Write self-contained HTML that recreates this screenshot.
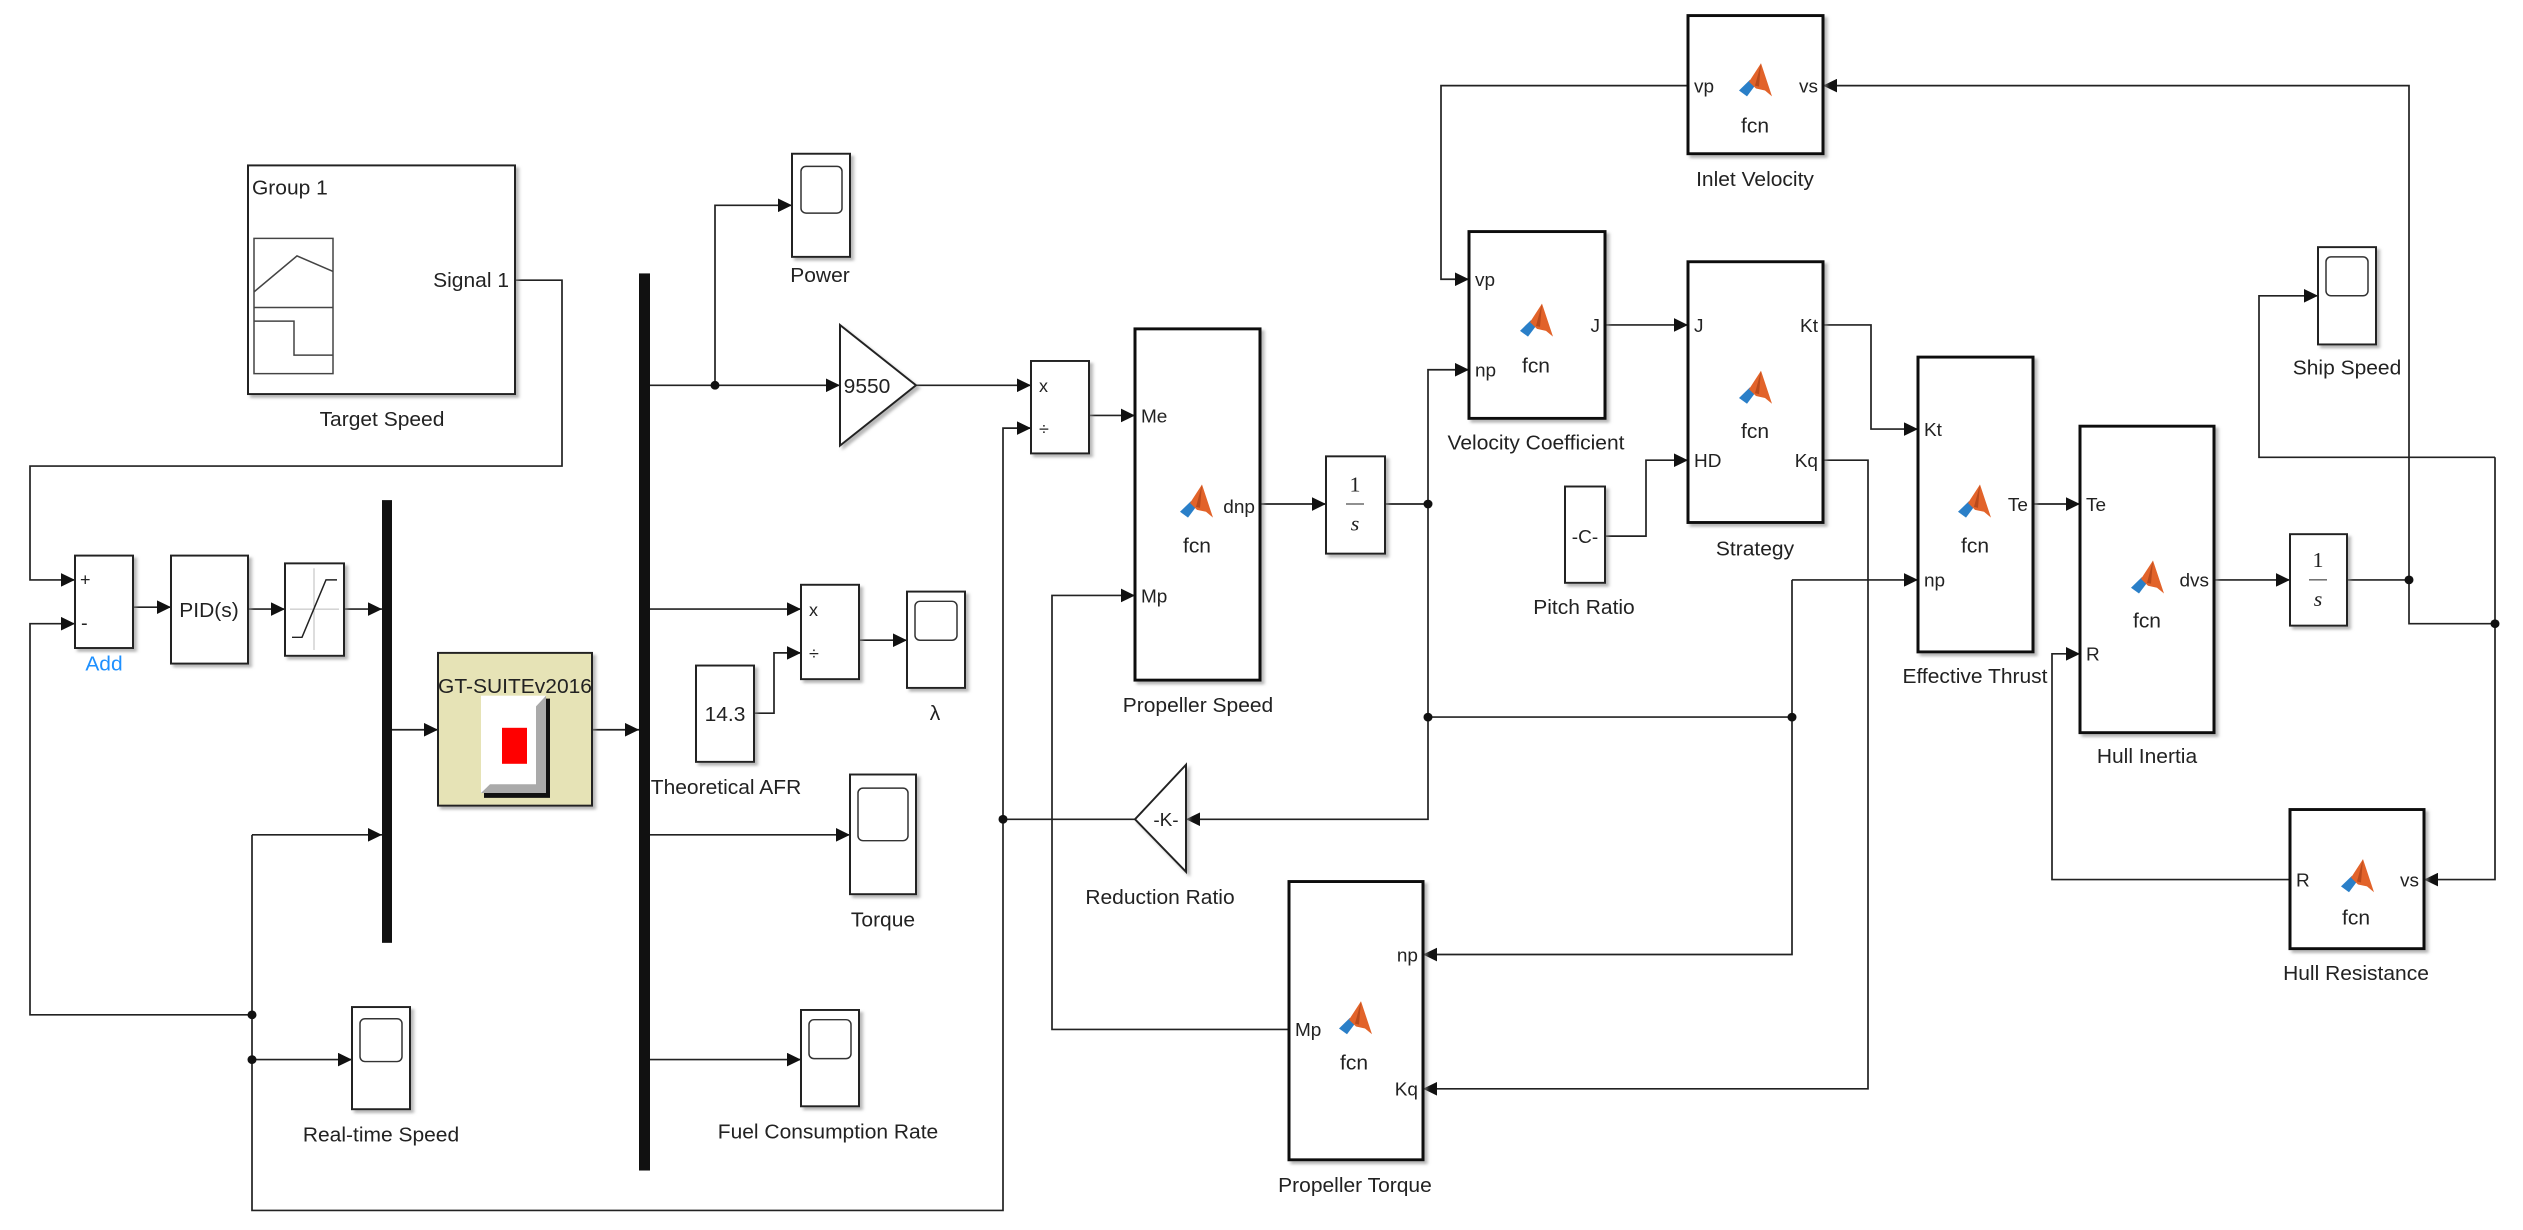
<!DOCTYPE html>
<html><head><meta charset="utf-8"><style>
html,body{margin:0;padding:0;background:#fff;}
svg{display:block;}
text{font-family:"Liberation Sans",sans-serif;fill:#222;}
</style></head><body>
<svg width="2523" height="1230" viewBox="0 0 2523 1230" xmlns="http://www.w3.org/2000/svg">
<defs>
<marker id="a" viewBox="0 0 10 10" refX="10" refY="5" markerWidth="14" markerHeight="14" markerUnits="userSpaceOnUse" orient="auto"><path d="M0,0L10,5L0,10z" fill="#111"/></marker>
<g id="ic">
<path d="M-17,8 L-6,-3 L-1,3 L-9,14 Z" fill="#2a7fc8"/>
<path d="M-7,-1 L5,-20 L16,14 L9,8 L0,6 Z" fill="#e2632a"/>
<path d="M-1,3 L5,-20 L3,4 Z" fill="#b94a1c"/>
</g>
<filter id="sh" x="-10%" y="-10%" width="130%" height="130%"><feDropShadow dx="3" dy="3" stdDeviation="1.5" flood-color="#888" flood-opacity="0.6"/></filter>
</defs>
<g transform="scale(1,0.973)">
<g fill="none" stroke="#222" stroke-width="1.7">
<polyline points="515,288 562,288 562,479 30,479 30,596 75,596" marker-end="url(#a)"/>
<polyline points="133,624 171,624" marker-end="url(#a)"/>
<polyline points="248,626 285,626" marker-end="url(#a)"/>
<polyline points="344,626 382,626" marker-end="url(#a)"/>
<polyline points="252,858 382,858" marker-end="url(#a)"/>
<polyline points="252,858 252,1244 1003,1244 1003,440 1031,440" marker-end="url(#a)"/>
<polyline points="252,1043 30,1043 30,641 75,641" marker-end="url(#a)"/>
<polyline points="252,1089 352,1089" marker-end="url(#a)"/>
<polyline points="392,750 438,750" marker-end="url(#a)"/>
<polyline points="592,750 639,750" marker-end="url(#a)"/>
<polyline points="650,396 840,396" marker-end="url(#a)"/>
<polyline points="715,396 715,211 792,211" marker-end="url(#a)"/>
<polyline points="916,396 1031,396" marker-end="url(#a)"/>
<polyline points="650,626 801,626" marker-end="url(#a)"/>
<polyline points="754,733 774,733 774,671 801,671" marker-end="url(#a)"/>
<polyline points="859,658 907,658" marker-end="url(#a)"/>
<polyline points="650,858 850,858" marker-end="url(#a)"/>
<polyline points="650,1089 801,1089" marker-end="url(#a)"/>
<polyline points="1089,427 1135,427" marker-end="url(#a)"/>
<polyline points="1289,1058 1052,1058 1052,612 1135,612" marker-end="url(#a)"/>
<polyline points="1260,518 1326,518" marker-end="url(#a)"/>
<polyline points="1385,518 1428,518"/>
<polyline points="1428,518 1428,380 1469,380" marker-end="url(#a)"/>
<polyline points="1428,518 1428,842 1186,842" marker-end="url(#a)"/>
<polyline points="1003,842 1135,842"/>
<polyline points="1428,737 1792,737"/>
<polyline points="1792,596 1792,981 1423,981" marker-end="url(#a)"/>
<polyline points="1792,596 1918,596" marker-end="url(#a)"/>
<polyline points="1688,88 1441,88 1441,287 1469,287" marker-end="url(#a)"/>
<polyline points="1605,334 1688,334" marker-end="url(#a)"/>
<polyline points="1605,551 1646,551 1646,473 1688,473" marker-end="url(#a)"/>
<polyline points="1823,334 1871,334 1871,441 1918,441" marker-end="url(#a)"/>
<polyline points="1823,473 1868,473 1868,1119 1423,1119" marker-end="url(#a)"/>
<polyline points="2033,518 2080,518" marker-end="url(#a)"/>
<polyline points="2214,596 2290,596" marker-end="url(#a)"/>
<polyline points="2347,596 2409,596"/>
<polyline points="2409,596 2409,88 1823,88" marker-end="url(#a)"/>
<polyline points="2409,596 2409,641 2495,641"/>
<polyline points="2495,470 2495,904 2424,904" marker-end="url(#a)"/>
<polyline points="2495,470 2259,470 2259,304 2318,304" marker-end="url(#a)"/>
<polyline points="2290,904 2052,904 2052,672 2080,672" marker-end="url(#a)"/>
</g>
<g fill="#111">
<circle cx="252" cy="1043" r="4.5"/><circle cx="252" cy="1089" r="4.5"/>
<circle cx="715" cy="396" r="4.5"/><circle cx="1003" cy="842" r="4.5"/>
<circle cx="1428" cy="518" r="4.5"/><circle cx="1428" cy="737" r="4.5"/>
<circle cx="1792" cy="737" r="4.5"/><circle cx="2409" cy="596" r="4.5"/>
<circle cx="2495" cy="641" r="4.5"/>
</g>

<rect x="248" y="170" width="267" height="235" fill="#fff" stroke="#222" stroke-width="2" filter="url(#sh)"/>
<rect x="254" y="245" width="79" height="139" fill="#fff" stroke="#444" stroke-width="1.5"/>
<line x1="254" y1="316" x2="333" y2="316" stroke="#444" stroke-width="1.5"/>
<polyline points="254,300 297,263 333,279" fill="none" stroke="#444" stroke-width="1.5"/>
<polyline points="254,330 294,330 294,365 333,365" fill="none" stroke="#444" stroke-width="1.5"/>
<text x="252" y="200" font-size="21">Group 1</text>
<text x="509" y="295" font-size="21" text-anchor="end">Signal 1</text>
<text x="382" y="438" font-size="21" text-anchor="middle">Target Speed</text>

<rect x="75" y="571" width="58" height="95" fill="#fff" stroke="#222" stroke-width="2" filter="url(#sh)"/>
<text x="80" y="602" font-size="18">+</text><text x="81" y="647" font-size="20">-</text>
<text x="104" y="689" font-size="21" text-anchor="middle" style="fill:#1e90ff">Add</text>
<rect x="171" y="571" width="77" height="111" fill="#fff" stroke="#222" stroke-width="2" filter="url(#sh)"/>
<text x="209" y="634" font-size="21" text-anchor="middle">PID(s)</text>
<rect x="285" y="579" width="59" height="95" fill="#fff" stroke="#222" stroke-width="2" filter="url(#sh)"/>
<line x1="314" y1="584" x2="314" y2="668" stroke="#bbb"/><line x1="290" y1="626" x2="339" y2="626" stroke="#bbb"/>
<polyline points="292,655 302,655 326,596 337,596" fill="none" stroke="#222" stroke-width="1.5"/>

<rect x="382" y="514" width="10" height="455" fill="#111"/>
<rect x="639" y="281" width="11" height="922" fill="#111"/>

<rect x="438" y="671" width="154" height="157" fill="#e6e3b6" stroke="#222" stroke-width="2" filter="url(#sh)"/>
<text x="515" y="712" font-size="21" text-anchor="middle">GT-SUITEv2016</text>
<rect x="484" y="718" width="66" height="102" fill="#111"/>
<rect x="481" y="715" width="65" height="100" fill="#fff"/>
<polygon points="546,715 546,815 481,815 490,806 536,806 536,726" fill="#aaa"/>
<rect x="502" y="748" width="25" height="37" fill="#f00"/>

<g fill="#fff" stroke="#222" stroke-width="2">
<rect x="792" y="158" width="58" height="106" filter="url(#sh)"/>
<rect x="907" y="608" width="58" height="99" filter="url(#sh)"/>
<rect x="850" y="796" width="66" height="123" filter="url(#sh)"/>
<rect x="801" y="1038" width="58" height="99" filter="url(#sh)"/>
<rect x="352" y="1035" width="58" height="105" filter="url(#sh)"/>
<rect x="2318" y="254" width="58" height="100" filter="url(#sh)"/>
</g>
<g fill="none" stroke="#333" stroke-width="1.5">
<rect x="801" y="171" width="41" height="48" rx="5"/>
<rect x="915" y="618" width="42" height="40" rx="5"/>
<rect x="858" y="810" width="50" height="54" rx="5"/>
<rect x="809" y="1048" width="42" height="40" rx="5"/>
<rect x="360" y="1047" width="42" height="44" rx="5"/>
<rect x="2326" y="264" width="42" height="40" rx="5"/>
</g>
<text x="820" y="290" font-size="21" text-anchor="middle">Power</text>
<text x="935" y="740" font-size="21" text-anchor="middle">λ</text>
<text x="883" y="952" font-size="21" text-anchor="middle">Torque</text>
<text x="828" y="1170" font-size="21" text-anchor="middle">Fuel Consumption Rate</text>
<text x="381" y="1173" font-size="21" text-anchor="middle">Real-time Speed</text>
<text x="2347" y="385" font-size="21" text-anchor="middle">Ship Speed</text>

<polygon points="840,334 916,396 840,458" fill="#fff" stroke="#222" stroke-width="2" filter="url(#sh)"/>
<text x="867" y="404" font-size="21" text-anchor="middle">9550</text>

<rect x="1031" y="371" width="58" height="95" fill="#fff" stroke="#222" stroke-width="2" filter="url(#sh)"/>
<text x="1039" y="403" font-size="18">x</text><text x="1039" y="447" font-size="18">÷</text>
<rect x="801" y="601" width="58" height="97" fill="#fff" stroke="#222" stroke-width="2" filter="url(#sh)"/>
<text x="809" y="633" font-size="18">x</text><text x="809" y="678" font-size="18">÷</text>
<rect x="696" y="684" width="58" height="99" fill="#fff" stroke="#222" stroke-width="2" filter="url(#sh)"/>
<text x="725" y="741" font-size="21" text-anchor="middle">14.3</text>
<text x="726" y="816" font-size="21" text-anchor="middle">Theoretical AFR</text>

<rect x="1135" y="338" width="125" height="361" fill="#fff" stroke="#111" stroke-width="3" filter="url(#sh)"/>
<text x="1141" y="434" font-size="19">Me</text><text x="1141" y="619" font-size="19">Mp</text>
<text x="1255" y="527" font-size="19" text-anchor="end">dnp</text>
<use href="#ic" x="1197" y="518"/><text x="1197" y="568" font-size="21" text-anchor="middle">fcn</text>
<text x="1198" y="732" font-size="21" text-anchor="middle">Propeller Speed</text>

<polygon points="1186,786 1135,842 1186,896" fill="#fff" stroke="#222" stroke-width="2" filter="url(#sh)"/>
<text x="1166" y="849" font-size="19" text-anchor="middle">-K-</text>
<text x="1160" y="929" font-size="21" text-anchor="middle">Reduction Ratio</text>

<rect x="1326" y="469" width="59" height="100" fill="#fff" stroke="#222" stroke-width="2" filter="url(#sh)"/>
<text x="1355" y="505" font-size="22" text-anchor="middle" style="font-family:'Liberation Serif',serif">1</text>
<line x1="1346" y1="518" x2="1364" y2="518" stroke="#222"/>
<text x="1355" y="545" font-size="22" text-anchor="middle" font-style="italic" style="font-family:'Liberation Serif',serif">s</text>
<rect x="2290" y="549" width="57" height="94" fill="#fff" stroke="#222" stroke-width="2" filter="url(#sh)"/>
<text x="2318" y="583" font-size="22" text-anchor="middle" style="font-family:'Liberation Serif',serif">1</text>
<line x1="2309" y1="596" x2="2327" y2="596" stroke="#222"/>
<text x="2318" y="623" font-size="22" text-anchor="middle" font-style="italic" style="font-family:'Liberation Serif',serif">s</text>

<rect x="1565" y="500" width="40" height="99" fill="#fff" stroke="#222" stroke-width="2" filter="url(#sh)"/>
<text x="1585" y="558" font-size="19" text-anchor="middle">-C-</text>
<text x="1584" y="631" font-size="21" text-anchor="middle">Pitch Ratio</text>

<g fill="#fff" stroke="#111" stroke-width="3">
<rect x="1688" y="16" width="135" height="142" filter="url(#sh)"/>
<rect x="1469" y="238" width="136" height="192" filter="url(#sh)"/>
<rect x="1688" y="269" width="135" height="268" filter="url(#sh)"/>
<rect x="1918" y="367" width="115" height="303" filter="url(#sh)"/>
<rect x="2080" y="438" width="134" height="315" filter="url(#sh)"/>
<rect x="2290" y="832" width="134" height="143" filter="url(#sh)"/>
<rect x="1289" y="906" width="134" height="286" filter="url(#sh)"/>
</g>
<g font-size="19">
<text x="1694" y="95">vp</text><text x="1818" y="95" text-anchor="end">vs</text>
<use href="#ic" x="1756" y="85"/><text x="1755" y="136" text-anchor="middle" font-size="21">fcn</text>
<text x="1755" y="191" text-anchor="middle" font-size="21">Inlet Velocity</text>

<text x="1475" y="294">vp</text><text x="1475" y="387">np</text><text x="1600" y="341" text-anchor="end">J</text>
<use href="#ic" x="1537" y="332"/><text x="1536" y="383" text-anchor="middle" font-size="21">fcn</text>
<text x="1536" y="462" text-anchor="middle" font-size="21">Velocity Coefficient</text>

<text x="1694" y="341">J</text><text x="1694" y="480">HD</text>
<text x="1818" y="341" text-anchor="end">Kt</text><text x="1818" y="480" text-anchor="end">Kq</text>
<use href="#ic" x="1756" y="401"/><text x="1755" y="450" text-anchor="middle" font-size="21">fcn</text>
<text x="1755" y="571" text-anchor="middle" font-size="21">Strategy</text>

<text x="1924" y="448">Kt</text><text x="1924" y="603">np</text><text x="2028" y="525" text-anchor="end">Te</text>
<use href="#ic" x="1975" y="518"/><text x="1975" y="568" text-anchor="middle" font-size="21">fcn</text>
<text x="1975" y="702" text-anchor="middle" font-size="21">Effective Thrust</text>

<text x="2086" y="525">Te</text><text x="2086" y="679">R</text><text x="2209" y="603" text-anchor="end">dvs</text>
<use href="#ic" x="2148" y="596"/><text x="2147" y="645" text-anchor="middle" font-size="21">fcn</text>
<text x="2147" y="784" text-anchor="middle" font-size="21">Hull Inertia</text>

<text x="2296" y="911">R</text><text x="2419" y="911" text-anchor="end">vs</text>
<use href="#ic" x="2358" y="903"/><text x="2356" y="950" text-anchor="middle" font-size="21">fcn</text>
<text x="2356" y="1007" text-anchor="middle" font-size="21">Hull Resistance</text>

<text x="1295" y="1065">Mp</text><text x="1418" y="988" text-anchor="end">np</text><text x="1418" y="1126" text-anchor="end">Kq</text>
<use href="#ic" x="1356" y="1049"/><text x="1354" y="1099" text-anchor="middle" font-size="21">fcn</text>
<text x="1355" y="1225" text-anchor="middle" font-size="21">Propeller Torque</text>
</g>
</g>
</svg>
</body></html>
